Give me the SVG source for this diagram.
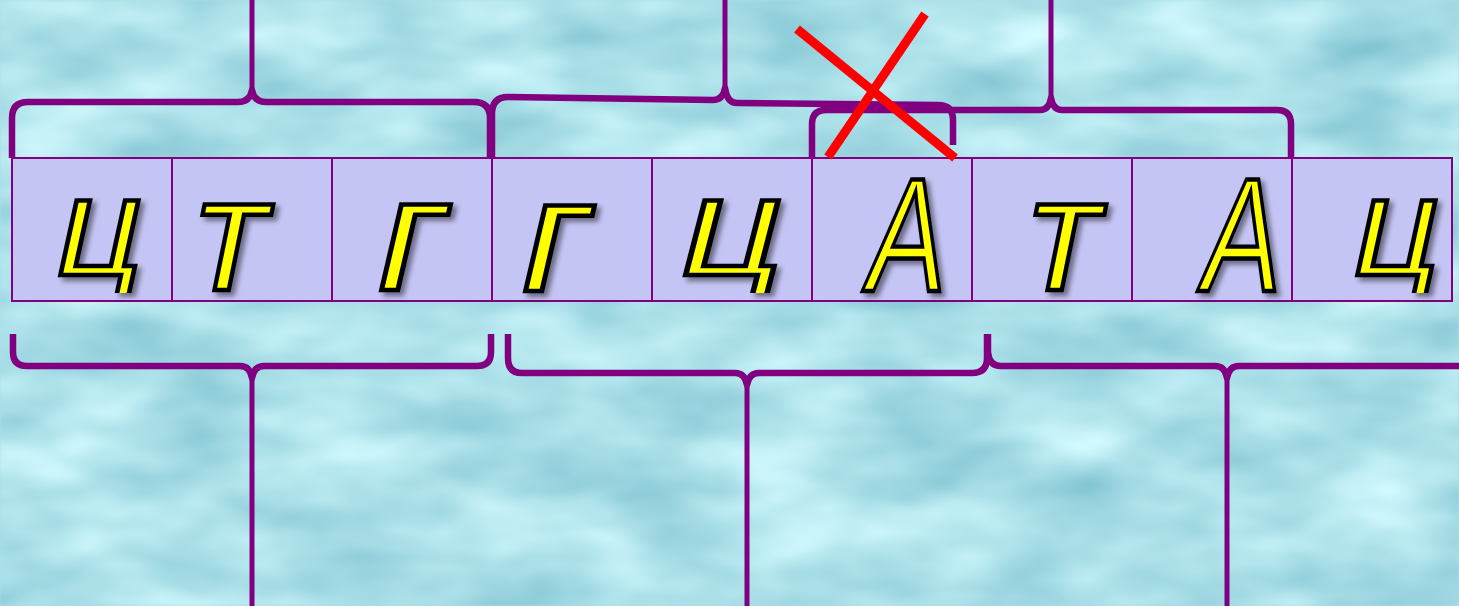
<svg xmlns="http://www.w3.org/2000/svg" width="1459" height="606" viewBox="0 0 1459 606">
<style>
.cell{fill:#c5c5f5;stroke:#800080;stroke-width:2}
.ltr{font-family:"Liberation Sans",Arial,sans-serif;fill:#ffff00;stroke:#000;stroke-width:4.5;stroke-linejoin:miter}
.brace{fill:none;stroke:#800080;stroke-width:6.5;stroke-linejoin:round;stroke-linecap:butt}
.stem{fill:none;stroke:#800080;stroke-width:5}
.cross{stroke:#ff0000;stroke-width:9;stroke-linecap:butt}
</style>
<defs>
<filter id="water" x="0" y="0" width="100%" height="100%" color-interpolation-filters="sRGB">
<feTurbulence type="fractalNoise" baseFrequency="0.007 0.016" numOctaves="3" seed="7"/>
<feColorMatrix type="matrix" values="0.45 0 0 0 0.45  0.3 0 0 0 0.73  0.25 0 0 0 0.79  0 0 0 0 1"/>
<feGaussianBlur stdDeviation="1.5"/>
</filter>
<filter id="shadow" x="-20%" y="-20%" width="150%" height="150%" color-interpolation-filters="sRGB">
<feDropShadow dx="4" dy="4" stdDeviation="2.5" flood-color="#000" flood-opacity="0.45"/>
</filter>
<clipPath id="cut"><rect x="0" y="0" width="1459" height="293"/></clipPath>
</defs>
<rect id="background" x="0" y="0" width="1459" height="606" fill="#aadfe8"/>
<rect x="0" y="0" width="1459" height="606" filter="url(#water)"/>

<g id="cell1"><rect class="cell" x="12" y="158" width="160" height="143"/><g filter="url(#shadow)"><g clip-path="url(#cut)"><text class="ltr" font-size="141" transform="translate(50,275) scale(1.07,1) skewX(-11.5)">ц</text></g></g></g>
<g id="cell2"><rect class="cell" x="172" y="158" width="160" height="143"/><g filter="url(#shadow)"><text class="ltr" font-size="162" transform="translate(184.4,290) skewX(-11.5)">т</text></g></g>
<g id="cell3"><rect class="cell" x="332" y="158" width="160" height="143"/><g filter="url(#shadow)"><text class="ltr" font-size="162" transform="translate(368.8,290) scale(1.14,1) skewX(-11.5)">г</text></g></g>
<g id="cell4"><rect class="cell" x="492" y="158" width="160" height="143"/><g filter="url(#shadow)"><text class="ltr" font-size="162" transform="translate(512.8,291) scale(1.14,1) skewX(-11.5)">г</text></g></g>
<g id="cell5"><rect class="cell" x="652" y="158" width="160" height="143"/><g filter="url(#shadow)"><g clip-path="url(#cut)"><text class="ltr" font-size="141" transform="translate(673.2,275) scale(1.27,1) skewX(-11.5)">ц</text></g></g></g>
<g id="cell6"><rect class="cell" x="812" y="158" width="160" height="143"/><g filter="url(#shadow)"><text class="ltr" font-size="162" transform="translate(862,291) scale(0.72,1) skewX(-11.5)">А</text></g></g>
<g id="cell7"><rect class="cell" x="972" y="158" width="160" height="143"/><g filter="url(#shadow)"><text class="ltr" font-size="162" transform="translate(1017.4,290) skewX(-11.5)">т</text></g></g>
<g id="cell8"><rect class="cell" x="1132" y="158" width="160" height="143"/><g filter="url(#shadow)"><text class="ltr" font-size="162" transform="translate(1197,291) scale(0.72,1) skewX(-11.5)">А</text></g></g>
<g id="cell9"><rect class="cell" x="1292" y="158" width="160" height="143"/><g filter="url(#shadow)"><g clip-path="url(#cut)"><text class="ltr" font-size="141" transform="translate(1347,275) scale(1.07,1) skewX(-11.5)">ц</text></g></g></g>

<g id="connectors">
<path class="brace" d="M12,158 V118 Q12,102 28,102 H238 Q250,102 252,90 Q254,102 266,102 H474 Q490,102 490,118 V158"/>
<path class="stem" d="M252,94 V0"/>
<path class="brace" d="M492,158 V114 Q492,97 508,97 L713,100 Q723,100 725,88 Q727,103 737,103 L938,105 Q953,105 953,120 V145"/>
<path class="stem" d="M725,92 V0"/>
<path class="brace" d="M812,158 V124 Q812,110 826,110 H1040 Q1049,110 1051,98 Q1053,110 1062,110 H1277 Q1291,110 1291,124 V158"/>
<path class="stem" d="M1051,102 V0"/>
<path class="brace" d="M13,334 V352 Q13,366 27,366 H240 Q250,366 252,378 Q254,366 264,366 H477 Q491,366 491,352 V334"/>
<path class="stem" d="M252,374 V606"/>
<path class="brace" d="M508,334 V358 Q508,373 522,373 H735 Q745,373 747,385 Q749,373 759,373 H972 Q987,373 987,358 V334"/>
<path class="stem" d="M747,381 V606"/>
<path class="brace" d="M988,334 V352 Q989,366 1001,366 H1215 Q1225,366 1227,378 Q1229,366 1239,366 H1459"/>
<path class="stem" d="M1227,374 V606"/>
</g>

<g id="cross">
<line class="cross" x1="797" y1="29" x2="955" y2="158"/>
<line class="cross" x1="925" y1="14" x2="828" y2="157"/>
</g>
</svg>
